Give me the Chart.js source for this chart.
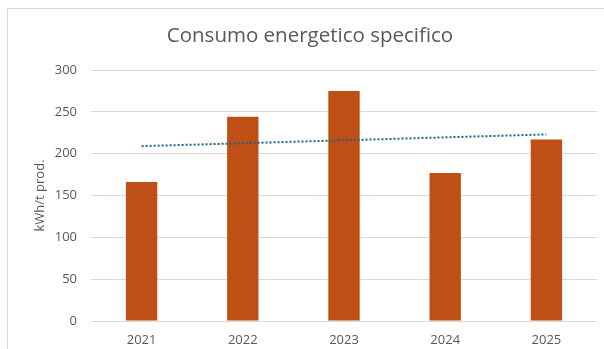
<!DOCTYPE html>
<html>
<head>
<meta charset="utf-8">
<script src="https://cdn.jsdelivr.net/npm/chart.js@4"></script>
<style>
  html, body { margin: 0; padding: 0; background: #fff; }
  #wrap { position: relative; width: 604px; height: 349px; overflow: hidden; }
  #frame { position: absolute; left: 7px; top: 8px; width: 620px; height: 400px; border: 1px solid #d9d9d9; box-sizing: border-box; }
  #chart { position: absolute; left: 0; top: 0; }
</style>
</head>
<body>
<div id="wrap">
  <div id="frame"></div>
  <canvas id="chart" width="604" height="349"></canvas>
</div>
<script>
const years = ['2021', '2022', '2023', '2024', '2025'];
const consumo = [166, 244, 275, 177, 217];
// trendline (start at 2021, end at 2025)
const trend = [209, null, null, null, 223];
const yTicks = [0, 50, 100, 150, 200, 250, 300];
const chartTitle = 'Consumo energetico specifico';

const gray = '#595959';

// draw the title ourselves so it can sit exactly where the original has it
const titlePlugin = {
  id: 'offTitle',
  afterDraw(chart) {
    const c = chart.ctx;
    c.save();
    c.fillStyle = gray;
    c.font = '20.5px "Open Sans"';
    c.textAlign = 'center';
    c.textBaseline = 'alphabetic';
    c.fillText(chartTitle, 310, 42);
    c.restore();
  }
};

const ctx = document.getElementById('chart').getContext('2d');

new Chart(ctx, {
  data: {
    labels: years,
    datasets: [
      {
        type: 'line',
        data: trend,
        spanGaps: true,
        borderColor: '#1f6587',
        borderWidth: 2,
        borderDash: [2, 2],
        pointRadius: 0,
        fill: false,
        order: 0
      },
      {
        type: 'bar',
        data: consumo,
        backgroundColor: '#c04f15',
        barPercentage: 0.31,
        categoryPercentage: 1,
        order: 1
      }
    ]
  },
  plugins: [titlePlugin],
  options: {
    responsive: false,
    animation: false,
    layout: { padding: { left: 0, right: 7, top: 70, bottom: 0 } },
    plugins: {
      legend: { display: false },
      tooltip: { enabled: false },
      title: { display: false }
    },
    scales: {
      x: {
        grid: { display: false, drawTicks: false },
        border: { display: false },
        ticks: { color: gray, font: { family: 'Open Sans', size: 13 }, padding: 11 },
        afterFit(scale) { scale.height = 28; }
      },
      y: {
        min: 0,
        max: 300,
        afterBuildTicks(scale) { scale.ticks = yTicks.map(v => ({ value: v })); },
        grid: { color: '#d9d9d9', drawTicks: false, lineWidth: 1 },
        border: { display: false },
        ticks: { color: gray, font: { family: 'Open Sans', size: 13 }, padding: 14 },
        title: {
          display: true,
          text: 'kWh/t prod.',
          color: gray,
          font: { family: 'Open Sans', size: 13 },
          padding: { top: 32, bottom: 0 }
        },
        afterFit(scale) { scale.width = 91; }
      }
    }
  }
});
</script>
</body>
</html>
